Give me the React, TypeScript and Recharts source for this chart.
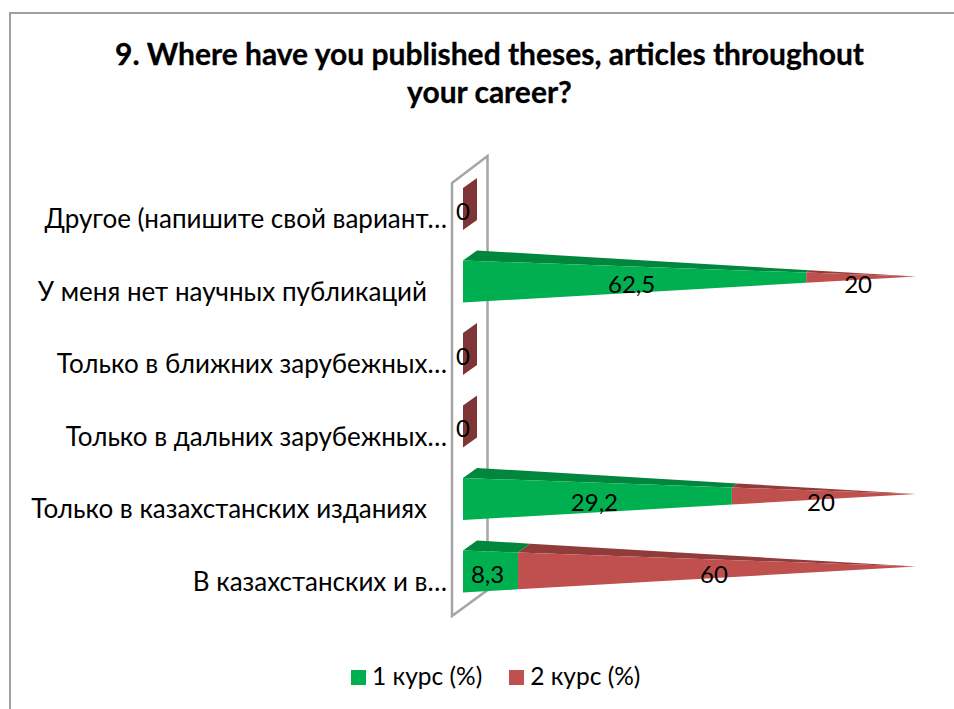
import React from 'react';
import { BarChart, Bar, XAxis, YAxis, Legend, LabelList, Customized } from 'recharts';

const categories = [
  'Другое (напишите свой вариант…',
  'У меня нет научных публикаций\u00a0\u00a0\u00a0',
  'Только в ближних зарубежных…',
  'Только в дальних зарубежных…',
  'Только в казахстанских изданиях\u00a0\u00a0\u00a0',
  'В казахстанских и в…',
];
const course1 = [0, 62.5, 0, 0, 29.2, 8.3];
const course2 = [0, 20, 0, 0, 20, 60];

const data = categories.map((name, i) => ({ name, course1: course1[i], course2: course2[i] }));

const FONT = 'Lato, "Open Sans", sans-serif';
const PLOT_LEFT = 463;
const PLOT_RIGHT = 916;
const DEPTH_X = 14;
const DEPTH_Y = 10;

const pts = (list: number[][]) => list.map((p) => p.join(',')).join(' ');

// tapered 3D cone piece: every segment narrows toward the tip at the plot's right edge
const Cone = ({ x, y, width, height, fill, topFill, zeroFill }: any) => {
  const cy = y + height / 2;
  const span = PLOT_RIGHT - PLOT_LEFT;
  const t0 = (x - PLOT_LEFT) / span;
  const t1 = (x + width - PLOT_LEFT) / span;
  const half = height / 2;
  const tipY = cy - 5;

  if (width <= 0) {
    if (!zeroFill) return null;
    return (
      <polygon
        fill={zeroFill}
        points={pts([
          [x, y],
          [x + DEPTH_X, y - DEPTH_Y],
          [x + DEPTH_X, y + height - DEPTH_Y],
          [x, y + height],
        ])}
      />
    );
  }

  const frontTop = (t: number) => cy - half + (tipY - (cy - half)) * t;
  const frontBottom = (t: number) => cy + half + (tipY - (cy + half)) * t;
  const backX = (t: number) => PLOT_LEFT + DEPTH_X + (span - DEPTH_X) * t;
  const backY = (t: number) => cy - half - DEPTH_Y + (tipY - (cy - half - DEPTH_Y)) * t;
  const frontX = (t: number) => PLOT_LEFT + span * t;

  return (
    <g>
      <polygon
        fill={topFill}
        points={pts([
          [frontX(t0), frontTop(t0)],
          [backX(t0), backY(t0)],
          [backX(t1), backY(t1)],
          [frontX(t1), frontTop(t1)],
        ])}
      />
      <polygon
        fill={fill}
        points={pts([
          [frontX(t0), frontTop(t0)],
          [frontX(t1), frontTop(t1)],
          [frontX(t1), frontBottom(t1)],
          [frontX(t0), frontBottom(t0)],
        ])}
      />
    </g>
  );
};

const Wall = () => (
  <polygon
    points={pts([
      [452, 183],
      [487.5, 156],
      [487.5, 590],
      [452, 616],
    ])}
    fill="#fff"
    stroke="#A6A6A6"
    strokeWidth={2.5}
  />
);

const CategoryTick = ({ x, y, payload }: any) => (
  <text x={x} y={y + 9} textAnchor="end" dominantBaseline="central" fontFamily={FONT} fontSize={26} fill="#000">
    {payload.value}
  </text>
);

const ValueLabel = ({ x, y, width, height, value, hideZero }: any) => {
  if (hideZero && !value) return null;
  return (
    <text
      x={x + width / 2 - (value ? 3 : 0)}
      y={y + height / 2 + (value ? 2 : 1)}
      textAnchor="middle"
      dominantBaseline="central"
      fontFamily={FONT}
      fontSize={24}
      fill="#000"
    >
      {String(value).replace('.', ',')}
    </text>
  );
};

export default function App() {
  return (
    <div style={{ position: 'absolute', left: 0, top: 0, width: 954, height: 709, overflow: 'hidden', background: '#fff' }}>
      <div
        style={{
          position: 'absolute',
          left: 9,
          top: 12,
          width: 960,
          height: 720,
          borderLeft: '2px solid #A0A0A0',
          borderTop: '2px solid #A0A0A0',
        }}
      />
      <div
        style={{
          position: 'absolute',
          left: 0,
          top: 34,
          width: 979,
          textAlign: 'center',
          fontFamily: FONT,
          fontWeight: 700,
          fontSize: 30,
          lineHeight: '38px',
          color: '#000',
          WebkitTextStroke: '0.3px #000',
        }}
      >
        9. Where have you published theses, articles throughout
        <br />
        your career?
      </div>
      <BarChart
        width={954}
        height={709}
        data={data}
        layout="vertical"
        stackOffset="expand"
        barSize={42}
        margin={{ top: 173, right: 954 - PLOT_RIGHT, bottom: 72, left: 0 }}
        style={{ position: 'absolute', left: 0, top: 0 }}
      >
        <Customized component={Wall} />
        <XAxis type="number" domain={[0, 1]} hide />
        <YAxis
          type="category"
          dataKey="name"
          width={PLOT_LEFT}
          axisLine={false}
          tickLine={false}
          tickMargin={10}
          tick={<CategoryTick />}
          interval={0}
        />
        <Bar
          dataKey="course1"
          name="1 курс (%)"
          stackId="a"
          fill="#00B050"
          isAnimationActive={false}
          shape={(p: any) => <Cone {...p} fill="#00B050" topFill="#00863D" />}
        >
          <LabelList dataKey="course1" content={(p: any) => <ValueLabel {...p} hideZero />} />
        </Bar>
        <Bar
          dataKey="course2"
          name="2 курс (%)"
          stackId="a"
          fill="#C0504D"
          isAnimationActive={false}
          shape={(p: any) => <Cone {...p} fill="#C0504D" topFill="#8F3C3A" zeroFill="#7F3535" />}
        >
          <LabelList dataKey="course2" content={(p: any) => <ValueLabel {...p} />} />
        </Bar>
        <Legend
          iconType="square"
          iconSize={15}
          align="left"
          formatter={(v: string) => (
            <span
              style={{
                color: '#000',
                fontFamily: FONT,
                fontSize: 24.5,
                marginLeft: 2,
                marginRight: 17,
                position: 'relative',
                top: 4,
              }}
            >
              {v}
            </span>
          )}
          wrapperStyle={{ left: 351, width: 420, top: 657, textAlign: 'left' }}
        />
      </BarChart>
    </div>
  );
}
